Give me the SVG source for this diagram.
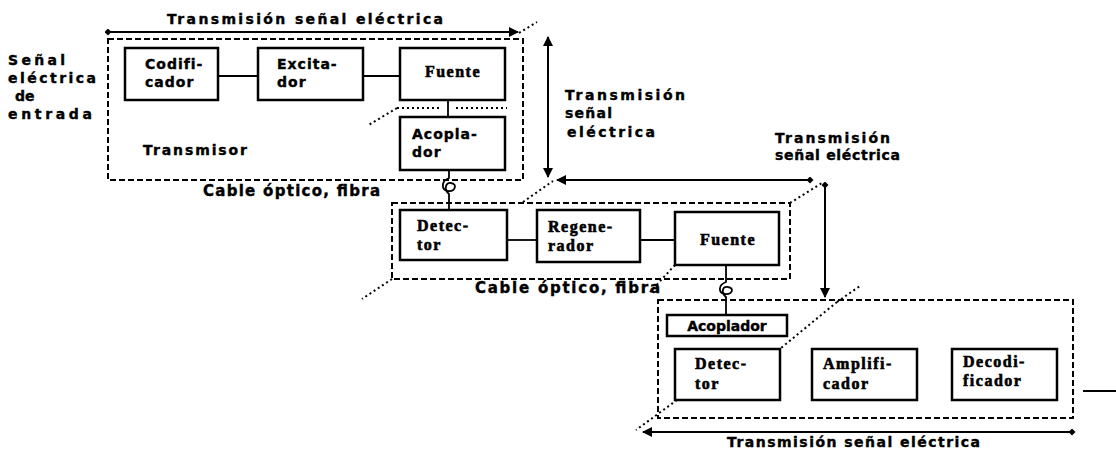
<svg xmlns="http://www.w3.org/2000/svg" width="1116" height="452" viewBox="0 0 1116 452">
<defs>
<style>
.box{fill:#fff;stroke:#000;stroke-width:2.5}
.dash{fill:none;stroke:#000;stroke-width:2;stroke-dasharray:6,3}
.dot{fill:none;stroke:#000;stroke-width:2;stroke-dasharray:2,3}
.ln{fill:none;stroke:#000;stroke-width:1.8}
.arr{fill:none;stroke:#000;stroke-width:2}
.t{font-family:"Liberation Serif","DejaVu Serif",serif;font-weight:bold;font-size:16px;letter-spacing:1.5px;fill:#000;stroke:#000;stroke-width:0.6}
.s{font-family:"DejaVu Sans","Liberation Sans",sans-serif;font-weight:bold;font-size:14px;fill:#000;stroke:#000;stroke-width:0.4}
.b{letter-spacing:1px}
.c{text-anchor:middle}
</style>
<marker id="ah" viewBox="0 0 10 10" refX="9" refY="5" markerWidth="5" markerHeight="5" orient="auto-start-reverse" markerUnits="strokeWidth">
<path d="M0,0 L10,5 L0,10 Z" fill="#000"/>
</marker>
<marker id="dm" viewBox="0 0 10 10" refX="5" refY="5" markerWidth="3.5" markerHeight="3.5" orient="auto" markerUnits="strokeWidth">
<path d="M5,0 L10,5 L5,10 L0,5 Z" fill="#000"/>
</marker>
</defs>
<rect width="1116" height="452" fill="#fff"/>

<g id="frames">
<rect class="dash" x="108" y="39" width="415" height="141"/>
<rect class="dash" x="392" y="203" width="398" height="76"/>
<rect class="dash" x="658" y="300" width="415" height="118"/>
</g>

<g id="connectors">
<line class="ln" x1="218" y1="76" x2="258" y2="76"/>
<line class="ln" x1="363" y1="76" x2="400" y2="76"/>
<line class="ln" x1="448" y1="100" x2="448" y2="117"/>
<line class="dot" x1="397" y1="108" x2="440" y2="108"/>
<line class="dot" x1="456" y1="108" x2="507" y2="108"/>
<line class="dot" x1="397" y1="108" x2="367" y2="126"/>
<path class="ln" d="M449,170 V178 C441,181 441,190 448,191 C455,192 458,184 451,183 C445,182 444,190 449,194 V210"/>
<line class="ln" x1="507" y1="240" x2="537" y2="240"/>
<line class="ln" x1="640" y1="240" x2="675" y2="240"/>
<path class="ln" d="M726,265 V282 C718,285 718,293 725,294 C732,295 735,288 728,287 C722,286 721,293 726,297 V315"/>
<line class="dot" x1="519" y1="33" x2="537" y2="22"/>
<line class="dot" x1="523" y1="202" x2="553" y2="181"/>
<line class="dot" x1="790" y1="203" x2="822" y2="183"/>
<line class="dot" x1="392" y1="279" x2="362" y2="299"/>
<line class="dot" x1="675" y1="265" x2="650" y2="292"/>
<line class="dot" x1="837" y1="302" x2="860" y2="286"/>
<line class="dot" x1="837" y1="302" x2="781" y2="348"/>
<line class="dot" x1="677" y1="400" x2="636" y2="430"/>
<line class="arr" x1="108" y1="32" x2="518" y2="32" marker-start="url(#dm)" marker-end="url(#ah)"/>
<line class="arr" x1="548" y1="37" x2="548" y2="177" marker-start="url(#ah)" marker-end="url(#ah)"/>
<line class="arr" x1="557" y1="180" x2="810" y2="180" marker-start="url(#ah)" marker-end="url(#dm)"/>
<line class="arr" x1="825" y1="185" x2="825" y2="297" marker-start="url(#dm)" marker-end="url(#ah)"/>
<line class="arr" x1="643" y1="432" x2="1072" y2="432" marker-start="url(#ah)" marker-end="url(#dm)"/>
<line class="arr" x1="1083" y1="391" x2="1116" y2="391"/>
</g>

<g id="codificador"><rect class="box" x="125" y="48" width="93" height="52"/><text class="s b" x="145" y="69">Codifi-</text><text class="s b" x="145" y="87">cador</text></g>
<g id="excitador"><rect class="box" x="258" y="48" width="105" height="52"/><text class="s b" x="277" y="69">Excita-</text><text class="s b" x="277" y="87">dor</text></g>
<g id="fuente1"><rect class="box" x="400" y="48" width="105" height="52"/><text class="t c" x="453" y="77">Fuente</text></g>
<g id="acoplador1"><rect class="box" x="400" y="117" width="105" height="53"/><text class="s b" x="412" y="139">Acopla-</text><text class="s b" x="412" y="157">dor</text></g>
<g id="detector1"><rect class="box" x="400" y="210" width="107" height="50"/><text class="t" x="417" y="231">Detec-</text><text class="t" x="417" y="250">tor</text></g>
<g id="regenerador"><rect class="box" x="537" y="210" width="103" height="52"/><text class="t" x="548" y="232">Regene-</text><text class="t" x="548" y="251">rador</text></g>
<g id="fuente2"><rect class="box" x="675" y="212" width="104" height="53"/><text class="t c" x="728" y="245">Fuente</text></g>
<g id="acoplador2"><rect class="box" x="667" y="315" width="120" height="21"/><text class="s c" x="727" y="331">Acoplador</text></g>
<g id="detector2"><rect class="box" x="675" y="349" width="105" height="51"/><text class="t" x="695" y="369">Detec-</text><text class="t" x="695" y="389">tor</text></g>
<g id="amplificador"><rect class="box" x="812" y="349" width="105" height="51"/><text class="t" x="823" y="369">Amplifi-</text><text class="t" x="823" y="389">cador</text></g>
<g id="decodificador"><rect class="box" x="952" y="349" width="105" height="51"/><text class="t" x="963" y="367">Decodi-</text><text class="t" x="963" y="386">ficador</text></g>

<g id="labels">
<text class="s" x="167" y="24" textLength="276" lengthAdjust="spacing">Transmisión señal eléctrica</text>
<text class="s" x="8" y="65" textLength="57" lengthAdjust="spacing">Señal</text>
<text class="s" x="8" y="83" textLength="88" lengthAdjust="spacing">eléctrica</text>
<text class="s" x="15" y="101">de</text>
<text class="s" x="8" y="119" textLength="84" lengthAdjust="spacing">entrada</text>
<text class="s" x="143" y="155" textLength="104" lengthAdjust="spacing">Transmisor</text>
<text class="s" x="203" y="196" style="font-size:15px" textLength="177" lengthAdjust="spacing">Cable óptico, fibra</text>
<text class="s" x="565" y="100" textLength="120" lengthAdjust="spacing">Transmisión</text>
<text class="s" x="565" y="118" textLength="47" lengthAdjust="spacing">señal</text>
<text class="s" x="567" y="137" textLength="88" lengthAdjust="spacing">eléctrica</text>
<text class="s" x="775" y="143" textLength="115" lengthAdjust="spacing">Transmisión</text>
<text class="s" x="775" y="160" textLength="125" lengthAdjust="spacing">señal eléctrica</text>
<text class="s" x="475" y="293" style="font-size:15px" textLength="185" lengthAdjust="spacing">Cable óptico, fibra</text>
<text class="s" x="727" y="447" textLength="253" lengthAdjust="spacing">Transmisión señal eléctrica</text>
</g>
</svg>
